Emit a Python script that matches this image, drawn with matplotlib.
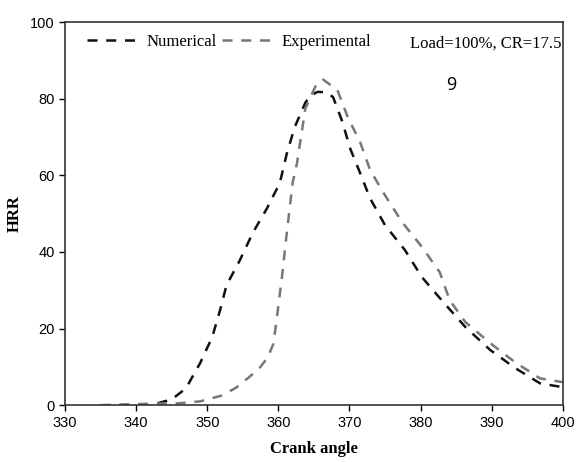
import matplotlib
matplotlib.use('Agg')
import matplotlib.pyplot as plt

# heat release rate vs crank angle
crank_num = [343, 345, 347, 349, 350.7, 351.8, 352.7, 354.6, 356.4, 358.4, 360.2, 361.2,
             362.3, 363.8, 364.5, 365.5, 366.8, 367.7, 369, 370.1, 371.5, 372.9, 375,
             377.8, 380.2, 383.2, 386.3, 389.8, 393.3, 396.8, 400]
hrr_num = [0.5, 1.5, 4.4, 11, 17.8, 24.8, 31.3, 37.9, 45, 51.4, 58, 65.8,
           72.6, 79, 80.8, 81.8, 81.7, 80.4, 74, 67, 60.6, 54, 47,
           40.5, 33.4, 26.9, 20.4, 14.4, 9.7, 5.7, 4.7]

crank_exp = [335, 340, 346, 349, 352, 354, 356, 357.4, 358.5, 359.3, 359.8, 360.5, 361.1, 361.5,
             362, 362.6, 363.8, 365.4, 366.3, 368.3, 369.8, 371.5, 372.9, 375,
             377.4, 380.2, 382.7, 384.1, 386.3, 389.8, 393.3, 396.8, 400]
hrr_exp = [0, 0.3, 0.5, 1, 2.5, 4.5, 7.5, 9.8, 12.5, 16, 23, 33.4, 43.6, 50,
           58, 63, 77.5, 84, 85, 82.3, 75, 68.7, 61.4, 54.8,
           47.8, 41.3, 34.7, 27.4, 21.7, 16.2, 11.2, 7, 6]

plt.figure(figsize=(5.76, 4.62), dpi=100)
ax = plt.axes([0.113, 0.123, 0.864, 0.829])

ax.plot(crank_num, hrr_num, color='#111111', lw=1.8, linestyle=(0, (4, 3.5)), label='Numerical')
ax.plot(crank_exp, hrr_exp, color='#777777', lw=1.8, linestyle=(0, (4, 3.5)), label='Experimental')

ax.set_xlim(330, 400)
ax.set_ylim(0, 100)
ax.set_xticks(range(330, 401, 10))
ax.set_yticks(range(0, 101, 20))
ax.tick_params(direction='out', length=4, labelsize=10.5, width=1)
for lbl in ax.get_xticklabels() + ax.get_yticklabels():
    lbl.set_family('Liberation Sans')
for sp in ax.spines.values():
    sp.set_color('#333333')
    sp.set_linewidth(1.2)

ax.set_xlabel('Crank angle', family='Liberation Serif', weight='bold', fontsize=12, labelpad=8)
ax.set_ylabel('HRR', family='Liberation Serif', weight='bold', fontsize=12, labelpad=5)

ax.legend(loc='upper left', ncol=2, frameon=False, handlelength=3, handletextpad=0.6,
          columnspacing=0.3, borderaxespad=0.3, bbox_to_anchor=(0.02, 1.0),
          prop={'family': 'Liberation Serif', 'size': 12})
ax.text(399.8, 94.4, 'Load=100%, CR=17.5', ha='right', va='center',
        family='Liberation Serif', fontsize=12)
ax.text(384.3, 83.5, '9', ha='center', va='center', family='Open Sans', fontsize=13)

plt.savefig('out.png', dpi=100)
